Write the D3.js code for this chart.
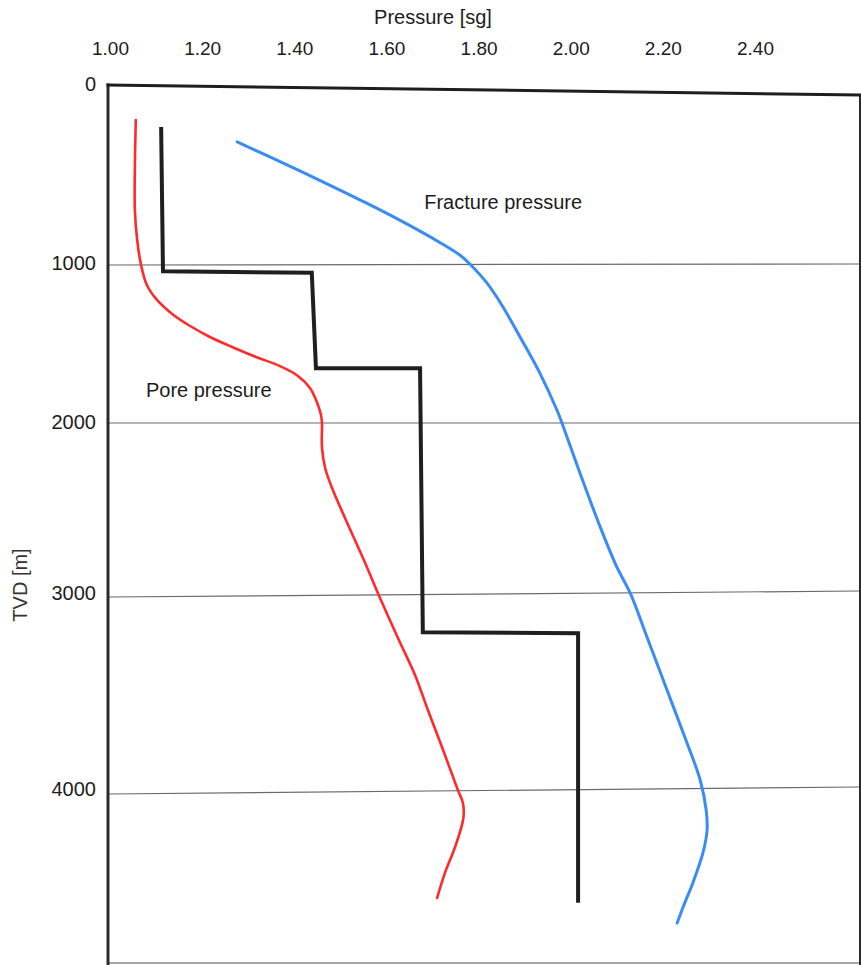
<!DOCTYPE html>
<html>
<head>
<meta charset="utf-8">
<script src="https://cdn.jsdelivr.net/npm/d3@7"></script>
<style>
  html, body { margin: 0; padding: 0; background: #fff; }
  svg { display: block; font-family: "Liberation Sans", Arial, Helvetica, sans-serif; }
</style>
</head>
<body>
<svg id="chart" width="861" height="965"></svg>
<script>
// Axis ticks
const depthTicks = [0, 1000, 2000, 3000, 4000];                 // TVD [m]
const pressureTicks = [1.0, 1.2, 1.4, 1.6, 1.8, 2.0, 2.2, 2.4]; // sg

// Pore pressure profile
const poreDepth = [196, 458, 698, 866, 1000, 1132, 1226, 1314, 1390, 1459, 1522, 1585,
  1642, 1704, 1780, 1868, 1950, 2000, 2140, 2263, 2380, 2567, 2801, 3031, 3235, 3413,
  3592, 3796, 4000, 4066, 4143, 4291, 4423, 4551];
const porePressure = [1.056, 1.054, 1.054, 1.059, 1.067, 1.080, 1.102, 1.135, 1.174, 1.217,
  1.265, 1.317, 1.369, 1.408, 1.434, 1.449, 1.458, 1.460, 1.460, 1.467, 1.482, 1.512, 1.551,
  1.588, 1.627, 1.662, 1.690, 1.723, 1.755, 1.766, 1.767, 1.749, 1.727, 1.710];

// Fracture pressure profile
const fracDepth = [318, 402, 531, 659, 765, 877, 955, 1000, 1119, 1270, 1459, 1686, 1918, 2000,
  2292, 2608, 2842, 2994, 3235, 3490, 3745, 3949, 4102, 4204, 4321, 4474, 4597, 4679];
const fracPressure = [1.276, 1.347, 1.454, 1.556, 1.636, 1.714, 1.762, 1.781, 1.818, 1.853,
  1.890, 1.933, 1.970, 1.981, 2.020, 2.064, 2.100, 2.129, 2.168, 2.209, 2.250, 2.281, 2.294,
  2.296, 2.287, 2.265, 2.244, 2.231];

// Mud weight programme (vertices of the step profile)
const mudDepth = [235, 1045, 1055, 1655, 1655, 3195, 3200, 4575];
const mudWeight = [1.111, 1.115, 1.438, 1.447, 1.673, 1.679, 2.016, 2.016];

// Curve annotations
const labelText = ["Fracture pressure", "Pore pressure"];
const labelPressure = [1.682, 1.078];
const labelDepth = [693, 1836];

// ---------------------------------------------------------------
const svg = d3.select("#chart");
const frame = { left: 108, right: 860, top: 85, bottom: 963, topSkew: 10 };

const x = d3.scaleLinear().domain([1.0, 2.4]).range([110, 755]);
const y = d3.scaleLinear().domain(depthTicks).range([85, 264, 423, 594, 790]);

// slight hand-drawn tilt of the depth rules (left offset, right offset)
const ruleTilt = { 1000: [1, 0], 2000: [0, 0], 3000: [3, -3], 4000: [4, -3] };

// Depth rules
svg.append("g")
  .selectAll("line")
  .data(depthTicks.filter(d => d > 0))
  .join("line")
  .attr("x1", frame.left).attr("x2", frame.right)
  .attr("y1", d => y(d) + ruleTilt[d][0])
  .attr("y2", d => y(d) + ruleTilt[d][1])
  .attr("stroke", "#6a6a6a")
  .attr("stroke-width", 1.2);

// Frame
const g = svg.append("g").attr("fill", "none");
g.append("line")
  .attr("x1", frame.left).attr("x2", frame.right)
  .attr("y1", frame.bottom).attr("y2", frame.bottom)
  .attr("stroke", "#8a8a8a").attr("stroke-width", 1.5);
g.append("line")
  .attr("x1", frame.right).attr("x2", frame.right)
  .attr("y1", y(0) + frame.topSkew).attr("y2", 965)
  .attr("stroke", "#2a2a2a").attr("stroke-width", 2);
g.append("line")
  .attr("x1", frame.left).attr("x2", frame.left)
  .attr("y1", y(0) - 1.5).attr("y2", 965)
  .attr("stroke", "#2a2a2a").attr("stroke-width", 3);
g.append("line")
  .attr("x1", frame.left - 1.5).attr("x2", frame.right + 1)
  .attr("y1", y(0)).attr("y2", y(0) + frame.topSkew)
  .attr("stroke", "#1e1e1e").attr("stroke-width", 3);

// Axes (labels only)
const yAxis = svg.append("g")
  .attr("transform", `translate(${frame.left},0)`)
  .call(d3.axisLeft(y).tickValues(depthTicks).tickFormat(d3.format("d")).tickSize(0).tickPadding(12));
yAxis.select(".domain").remove();
yAxis.selectAll("text")
  .attr("font-size", 20).attr("fill", "#1c1c1c")
  .attr("font-family", "'Liberation Sans', Arial, sans-serif")
  .attr("dy", "0.28em");

const xAxis = svg.append("g")
  .attr("transform", `translate(0,${frame.top})`)
  .call(d3.axisTop(x).tickValues(pressureTicks).tickFormat(d3.format(".2f")).tickSize(0).tickPadding(30));
xAxis.select(".domain").remove();
xAxis.selectAll("text")
  .attr("font-size", 19).attr("fill", "#1c1c1c")
  .attr("font-family", "'Liberation Sans', Arial, sans-serif");

// Axis titles
svg.append("text")
  .attr("x", 433).attr("y", 24)
  .attr("text-anchor", "middle")
  .attr("font-size", 20).attr("fill", "#1c1c1c")
  .text("Pressure [sg]");
svg.append("text")
  .attr("transform", "translate(27,585) rotate(-90)")
  .attr("text-anchor", "middle")
  .attr("font-size", 20).attr("fill", "#333")
  .text("TVD [m]");

// Profiles
const profile = (depths, values) => depths.map((d, i) => [values[i], d]);
const smooth = d3.line().x(d => x(d[0])).y(d => y(d[1])).curve(d3.curveCatmullRom.alpha(0.5));
const steps = d3.line().x(d => x(d[0])).y(d => y(d[1]));

svg.append("path")
  .attr("d", steps(profile(mudDepth, mudWeight)))
  .attr("fill", "none").attr("stroke", "#1f1f1f").attr("stroke-width", 4)
  .attr("stroke-linejoin", "miter");

svg.append("path")
  .attr("d", smooth(profile(poreDepth, porePressure)))
  .attr("fill", "none").attr("stroke", "#ff2b2b").attr("stroke-width", 2.6)
  .attr("stroke-linecap", "round");

svg.append("path")
  .attr("d", smooth(profile(fracDepth, fracPressure)))
  .attr("fill", "none").attr("stroke", "#3a8cf4").attr("stroke-width", 3)
  .attr("stroke-linecap", "round");

// Curve labels
svg.append("g")
  .selectAll("text")
  .data(labelText)
  .join("text")
  .attr("x", (d, i) => x(labelPressure[i]))
  .attr("y", (d, i) => y(labelDepth[i]))
  .attr("font-size", 20).attr("fill", "#1c1c1c")
  .text(d => d);
</script>
</body>
</html>
